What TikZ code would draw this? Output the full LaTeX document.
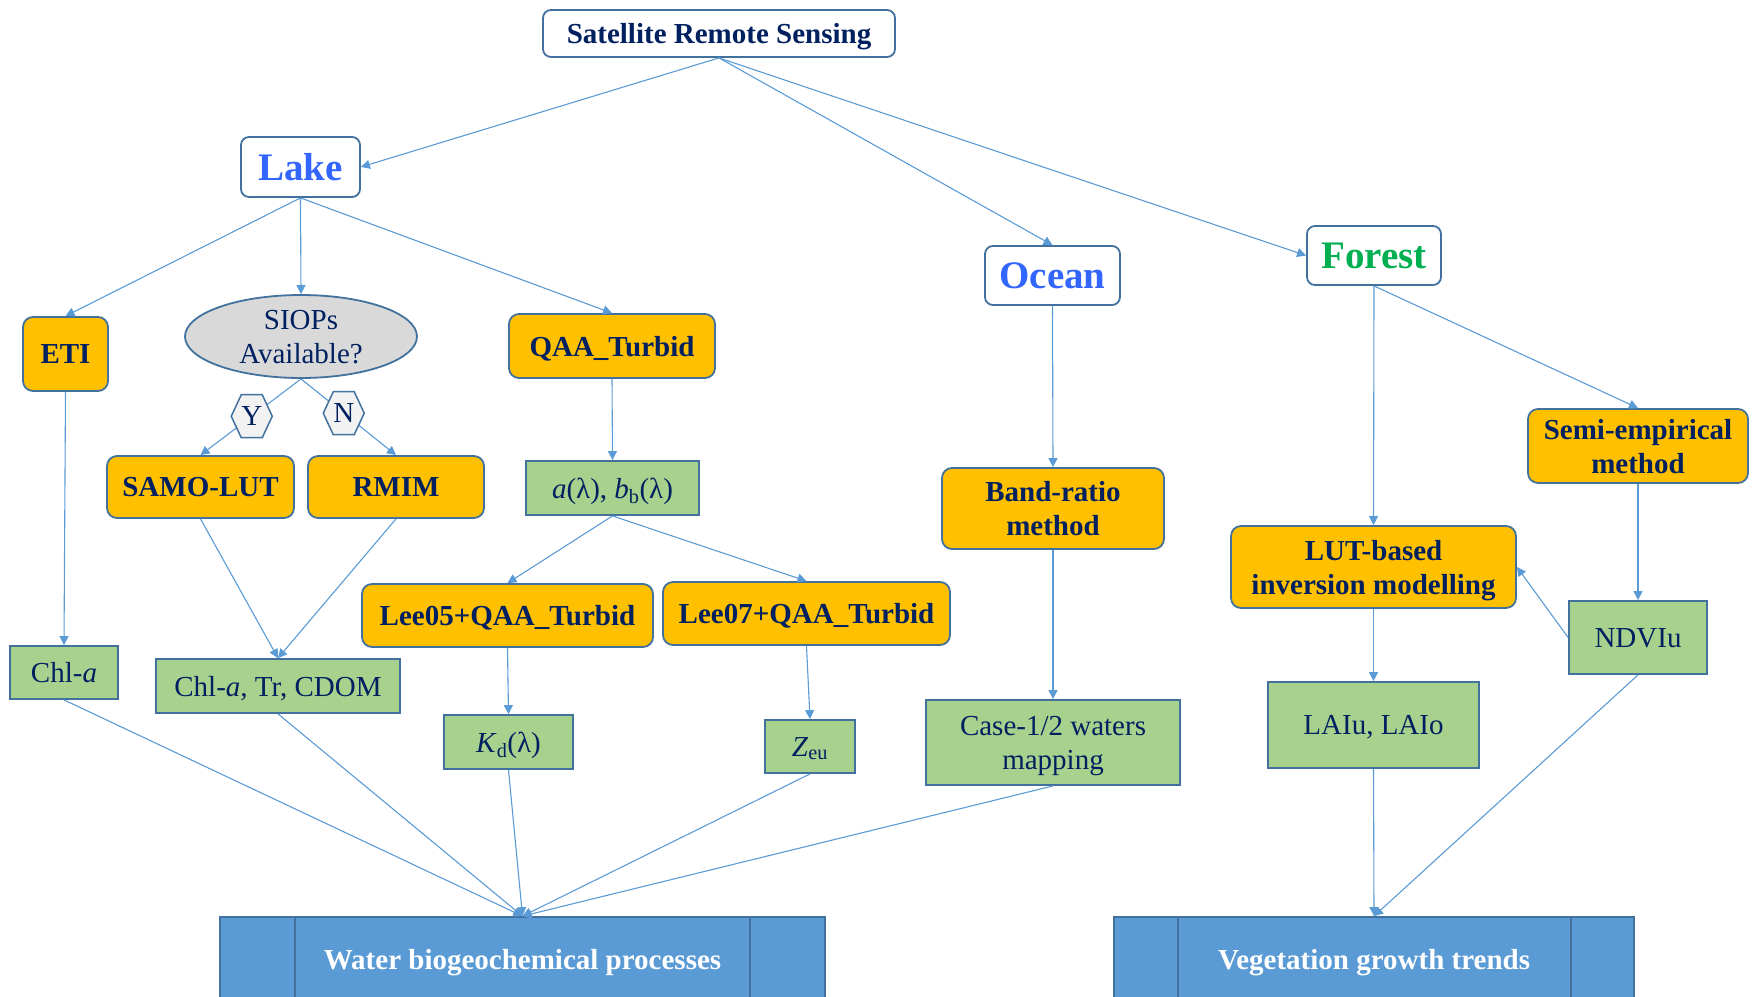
\documentclass[tikz,border=0pt]{standalone}
\usepackage{fontspec}
\setmainfont{Liberation Serif}
\usepackage{xcolor}
\definecolor{text_navy}{RGB}{0,32,96}
\definecolor{line_blue}{RGB}{91,155,213}
\definecolor{edge_blue}{RGB}{65,113,156}
\definecolor{box_orange}{RGB}{255,192,0}
\definecolor{box_green}{RGB}{169,209,142}
\definecolor{box_grey}{RGB}{217,217,217}
\definecolor{hex_grey}{RGB}{242,242,242}
\definecolor{lake_blue}{RGB}{51,102,255}
\definecolor{forest_green}{RGB}{0,176,80}
\usepackage{tikz}
\usetikzlibrary{arrows.meta, shapes.geometric, shapes.symbols, calc}

\begin{document}
\begin{tikzpicture}[x = 1pt, y = -1pt,
  every node/.style = {text = text_navy, font = \fontsize{29}{34}\selectfont, inner sep = 0pt, text depth = 0pt, align = center},
  box_size/.style 2 args = {minimum width = #1, minimum height = #2},
  white_box/.style = {draw = edge_blue, line width = 1.8pt, fill = white, rounded corners = 8pt},
  method_box/.style = {draw = edge_blue, line width = 1.8pt, fill = box_orange, rounded corners = 10pt, font = \fontsize{29}{34}\selectfont\bfseries},
  result_box/.style = {draw = edge_blue, line width = 1.8pt, fill = box_green},
  process_box/.style = {draw = edge_blue, line width = 1.8pt, fill = line_blue, text = white, font = \fontsize{29}{34}\selectfont\bfseries},
  hexa/.style = {signal, signal to = east and west, signal pointer angle = 130, draw = edge_blue, line width = 1.5pt, fill = hex_grey, box_size = {41}{43}},
  flow/.style = {draw = line_blue, line width = 1.1pt, -{Triangle[length = 9pt, width = 9pt]}}
]
\useasboundingbox (0, 0) rectangle (1752, 996);

\node [white_box, box_size = {352}{47}, font = \fontsize{29}{34}\selectfont\bfseries] (srs) at (719, 33.5) {Satellite Remote Sensing};
\node [white_box, box_size = {119}{60}, text = lake_blue, font = \fontsize{39}{40}\selectfont\bfseries] (lake) at (300.5, 167) {Lake};
\node [white_box, box_size = {135}{59}, text = lake_blue, font = \fontsize{39}{40}\selectfont\bfseries] (ocean) at (1052.5, 275.5) {Ocean};
\node [white_box, box_size = {134}{59}, text = forest_green, font = \fontsize{39}{40}\selectfont\bfseries] (forest) at (1374, 255.5) {Forest};

\node [method_box, box_size = {85}{74}] (eti) at (65.5, 354) {ETI};
\node [ellipse, draw = edge_blue, line width = 1.8pt, fill = box_grey, box_size = {232}{83}] (siops) at (301, 336.5) {SIOPs\\Available?};
\node [method_box, box_size = {206}{64}] (qaa) at (612, 346) {QAA\_Turbid};
\node [method_box, box_size = {187}{62}] (samo) at (200.5, 487) {SAMO-LUT};
\node [method_box, box_size = {176}{62}] (rmim) at (396, 487) {RMIM};
\node [result_box, box_size = {173}{54}] (abb) at (612.5, 488) {\textit{a}(λ), \textit{b}\textsubscript{b}(λ)};
\node [method_box, box_size = {291}{63}] (lee05) at (507.5, 615.5) {Lee05+QAA\_Turbid};
\node [method_box, box_size = {287}{63}] (lee07) at (806.5, 613.5) {Lee07+QAA\_Turbid};
\node [result_box, box_size = {108}{53}] (chla) at (64, 672.5) {Chl-\textit{a}};
\node [result_box, box_size = {244}{54}] (ctc) at (278, 686) {Chl-\textit{a,} Tr, CDOM};
\node [result_box, box_size = {129}{54}] (kd) at (508.5, 742) {\textit{K}\textsubscript{d}(λ)};
\node [result_box, box_size = {90}{53}] (zeu) at (810, 746.5) {\textit{Z}\textsubscript{eu}};

\node [method_box, box_size = {222}{81}] (band) at (1053, 508.5) {Band-ratio\\method};
\node [result_box, box_size = {254}{85}] (case) at (1053, 742.5) {Case-1/2 waters\\mapping};

\node [method_box, box_size = {220}{74}] (semi) at (1638, 446) {Semi-empirical\\method};
\node [method_box, box_size = {285}{82}] (lut) at (1373.5, 567) {LUT-based\\inversion modelling};
\node [result_box, box_size = {138}{73}] (ndvi) at (1638, 637.5) {NDVIu};
\node [result_box, box_size = {211}{86}] (lai) at (1373.5, 725) {LAIu, LAIo};

\node [process_box, box_size = {605}{84}] (water) at (522.5, 959) {Water biogeochemical processes};
\node [process_box, box_size = {520}{84}] (veg) at (1374, 959) {Vegetation growth trends};
\draw [edge_blue, line width = 1.8pt] ($(water.north west) + (76, 0)$) -- ($(water.south west) + (76, 0)$);
\draw [edge_blue, line width = 1.8pt] ($(water.north east) + (-76, 0)$) -- ($(water.south east) + (-76, 0)$);
\draw [edge_blue, line width = 1.8pt] ($(veg.north west) + (65, 0)$) -- ($(veg.south west) + (65, 0)$);
\draw [edge_blue, line width = 1.8pt] ($(veg.north east) + (-64, 0)$) -- ($(veg.south east) + (-64, 0)$);

\draw [flow] (srs.south) -- (lake.east);
\draw [flow] (srs.south) -- (ocean.north);
\draw [flow] (srs.south) -- (forest.west);

\draw [flow] (lake.south) -- (eti.north);
\draw [flow] (lake.south) -- (siops.north);
\draw [flow] (lake.south) -- (qaa.north);
\draw [flow] (siops.south) -- node [hexa, pos = 0.49] (yes) {Y} (samo.north);
\draw [flow] (siops.south) -- node [hexa, pos = 0.45] (no) {N} (rmim.north);
\draw [flow] (eti.south) -- (chla.north);
\draw [flow] (samo.south) -- (ctc.north);
\draw [flow] (rmim.south) -- (ctc.north);
\draw [flow] (qaa.south) -- (abb.north);
\draw [flow] (abb.south) -- (lee05.north);
\draw [flow] (abb.south) -- (lee07.north);
\draw [flow] (lee05.south) -- (kd.north);
\draw [flow] (lee07.south) -- (zeu.north);

\draw [flow] (ocean.south) -- (band.north);
\draw [flow] (band.south) -- (case.north);

\draw [flow] (forest.south) -- (lut.north);
\draw [flow] (forest.south) -- (semi.north);
\draw [flow] (semi.south) -- (ndvi.north);
\draw [flow] (ndvi.west) -- (lut.east);
\draw [flow] (lut.south) -- (lai.north);

\draw [flow] (chla.south) -- (water.north);
\draw [flow] (ctc.south) -- (water.north);
\draw [flow] (kd.south) -- (water.north);
\draw [flow] (zeu.south) -- (water.north);
\draw [flow] (case.south) -- (water.north);
\draw [flow] (lai.south) -- (veg.north);
\draw [flow] (ndvi.south) -- (veg.north);

\end{tikzpicture}
\end{document}
